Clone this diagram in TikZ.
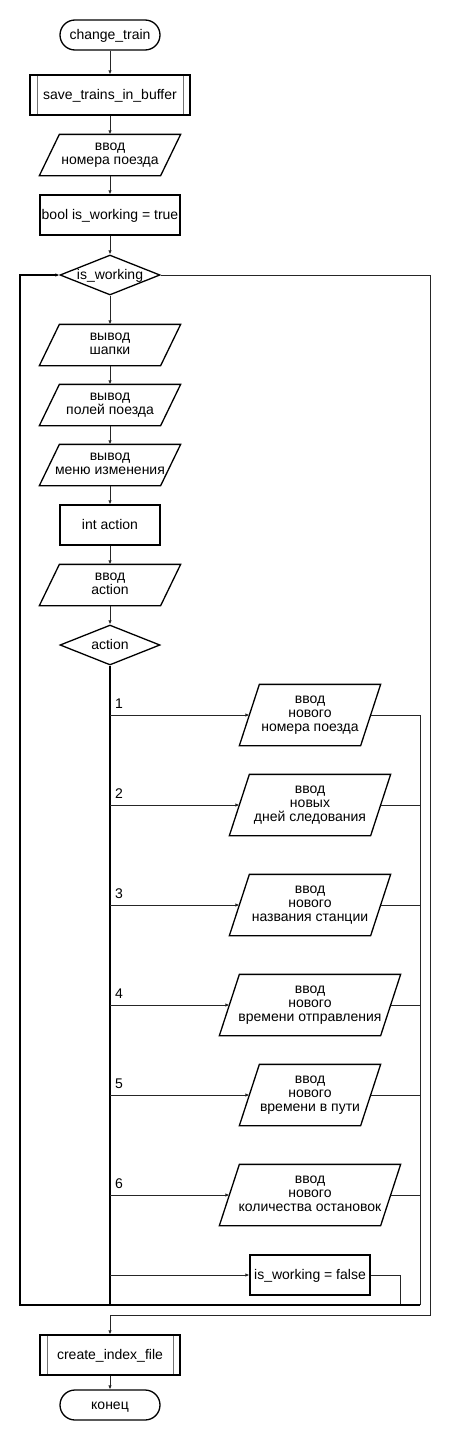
\documentclass[tikz,border=0pt]{standalone}
\usepackage{fontspec}
\setmainfont{Liberation Sans}
\usetikzlibrary{shapes.geometric,arrows.meta}
\newcommand{\lstrut}{\rule[-3pt]{0pt}{14pt}}
\tikzset{
  block/.style={draw, line width=1.3pt, align=center, inner sep=0pt,
    execute at begin node=\lstrut, execute at end node=\lstrut},
  term/.style={block, minimum width=100pt, minimum height=30pt, rounded corners=15pt},
  proc/.style={block, minimum height=40pt},
  subproc/.style={proc, path picture={
      \draw[black!55, line width=1pt] ([xshift=7pt]path picture bounding box.north west) -- ([xshift=7pt]path picture bounding box.south west);
      \draw[black!55, line width=1pt] ([xshift=-7pt]path picture bounding box.north east) -- ([xshift=-7pt]path picture bounding box.south east);}},
  % parallelogram: the node is its middle band, the legs lean 10pt out on each side
  io/.style={block, draw=none, minimum width=#1, minimum height=40pt,
    append after command={\pgfextra{
      \draw[line width=1.3pt]
        ([xshift=10pt]\tikzlastnode.north west) -- ([xshift=10pt]\tikzlastnode.north east)
        -- ([xshift=-10pt]\tikzlastnode.south east) -- ([xshift=-10pt]\tikzlastnode.south west) -- cycle;}}},
  caseio/.style={io=#1, minimum height=60pt},
  cond/.style={draw, line width=1.3pt, diamond, aspect=2.5, minimum width=100pt, minimum height=40pt,
    inner sep=-1pt, execute at begin node=\lstrut},
  line/.style={line width=1pt, draw=black!85},
  arrow/.style={line, -{Latex[length=4pt,width=3.5pt]}},
  mainline/.style={line width=1.2pt},
  caselabel/.style={anchor=west, inner sep=0pt},
}
\begin{document}
\begin{tikzpicture}[x=1pt, y=-1pt, font=\fontsize{14}{14}\selectfont]
  \useasboundingbox (0,0) rectangle (450,1440);
  % main chain
  \node[term] (start) at (110,35) {change\_train};
  \node[subproc, minimum width=160pt] (save) at (110,95) {save\_trains\_in\_buffer};
  \node[io=120pt] (inNum) at (110,155) {ввод\\номера поезда};
  \node[proc, minimum width=140pt] (init) at (110,215) {bool is\_working = true};
  \node[cond] (loop) at (110,275) {is\_working};
  \node[io=120pt] (outHead) at (110,345) {вывод\\шапки};
  \node[io=120pt] (outFields) at (110,405) {вывод\\полей поезда};
  \node[io=120pt] (outMenu) at (110,465) {вывод\\меню изменения};
  \node[proc, minimum width=100pt] (decl) at (110,525) {int action};
  \node[io=120pt] (inAct) at (110,585) {ввод\\action};
  \node[cond] (sw) at (110,645) {action};
  % cases
  \node[caseio=120pt] (setNum) at (310,715) {ввод\\нового\\номера поезда};
  \node[caseio=140pt] (setDays) at (310,805) {ввод\\новых\\дней следования};
  \node[caseio=140pt] (setName) at (310,905) {ввод\\нового\\названия станции};
  \node[caseio=160pt] (setDep) at (310,1005) {ввод\\нового\\времени отправления};
  \node[caseio=120pt] (setTrip) at (310,1095) {ввод\\нового\\времени в пути};
  \node[caseio=160pt] (setStops) at (310,1195) {ввод\\нового\\количества остановок};
  \node[proc, minimum width=120pt] (stop) at (310,1275) {is\_working = false};
  \node[caselabel] (l1) at (115,704) {1};
  \node[caselabel] (l2) at (115,794) {2};
  \node[caselabel] (l3) at (115,894) {3};
  \node[caselabel] (l4) at (115,994) {4};
  \node[caselabel] (l5) at (115,1084) {5};
  \node[caselabel] (l6) at (115,1184) {6};
  % end
  \node[subproc, minimum width=140pt] (index) at (110,1355) {create\_index\_file};
  \node[term] (finish) at (110,1405) {конец};

  \coordinate (b1) at (110,715);
  \coordinate (b2) at (110,805);
  \coordinate (b3) at (110,905);
  \coordinate (b4) at (110,1005);
  \coordinate (b5) at (110,1095);
  \coordinate (b6) at (110,1195);
  \coordinate (b7) at (110,1275);
  \coordinate (j1) at (420,715);
  \coordinate (j2) at (420,805);
  \coordinate (j3) at (420,905);
  \coordinate (j4) at (420,1005);
  \coordinate (j5) at (420,1095);
  \coordinate (j6) at (420,1195);
  \coordinate (jBot) at (420,1305);
  \coordinate (stopBot) at (400,1305);
  \coordinate (mainBot) at (110,1305);
  \coordinate (loopBL) at (20,1305);
  \coordinate (loopTL) at (20,275);
  \coordinate (exitTR) at (430,275);
  \coordinate (exitBR) at (430,1315);
  \coordinate (exitBL) at (110,1315);

  \draw[arrow] (start) -- (save);
  \draw[arrow] (save) -- (inNum);
  \draw[arrow] (inNum) -- (init);
  \draw[arrow] (init) -- (loop);
  \draw[arrow] (loop) -- (outHead);
  \draw[arrow] (outHead) -- (outFields);
  \draw[arrow] (outFields) -- (outMenu);
  \draw[arrow] (outMenu) -- (decl);
  \draw[arrow] (decl) -- (inAct);
  \draw[arrow] (inAct) -- (sw);
  \draw[mainline] (sw.south) -- (mainBot);
  \draw[arrow] (b1) -- (setNum.west);
  \draw[arrow] (b2) -- (setDays.west);
  \draw[arrow] (b3) -- (setName.west);
  \draw[arrow] (b4) -- (setDep.west);
  \draw[arrow] (b5) -- (setTrip.west);
  \draw[arrow] (b6) -- (setStops.west);
  \draw[arrow] (b7) -- (stop.west);
  \draw[line] (setNum.east) -- (j1) -- (jBot);
  \draw[line] (setDays.east) -- (j2);
  \draw[line] (setName.east) -- (j3);
  \draw[line] (setDep.east) -- (j4);
  \draw[line] (setTrip.east) -- (j5);
  \draw[line] (setStops.east) -- (j6);
  \draw[line] (stop.east) -| (stopBot);
  % back to the loop
  \draw[mainline, -{Latex[length=4pt,width=3.5pt]}] (jBot) -- (loopBL) -- (loopTL) -- (loop.west);
  % leaving the loop
  \draw[arrow] (loop.east) -- (exitTR) -- (exitBR) -- (exitBL) -- (index.north);
  \draw[arrow] (index) -- (finish);
\end{tikzpicture}
\end{document}
